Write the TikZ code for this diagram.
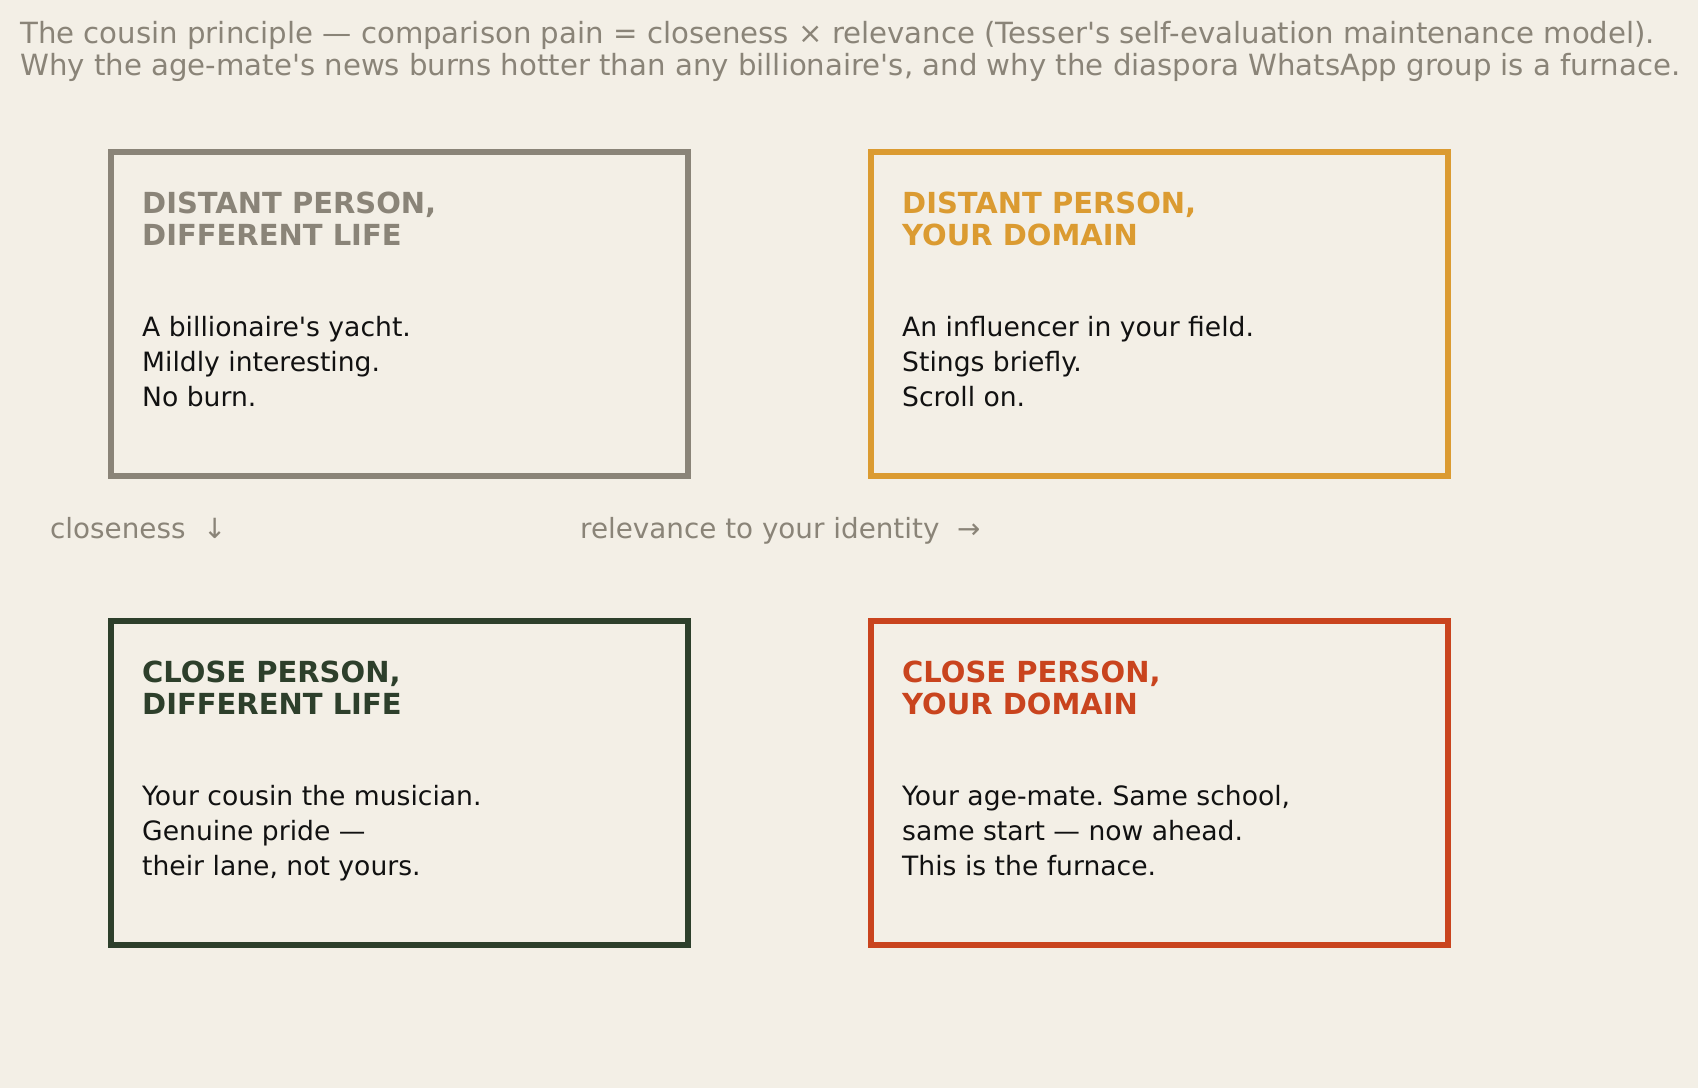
\documentclass[tikz,border=0pt]{standalone}
\usepackage{fontspec}
\setmainfont{DejaVu Sans}[Ligatures=TeXOff]
\frenchspacing
\definecolor{bg}{HTML}{F3EFE6}
\definecolor{greyc}{HTML}{8A8478}
\definecolor{gold}{HTML}{DB9B31}
\definecolor{forest}{HTML}{2D3F2B}
\definecolor{rust}{HTML}{C9441E}
\definecolor{ink}{HTML}{111111}
\begin{document}
\begin{tikzpicture}[x=1pt,y=-1pt,
  quad/.style={draw, line width=6pt, minimum width=577pt, minimum height=324.5pt, inner sep=0pt, anchor=center},
  head/.style={font=\bfseries\fontsize{29}{32.5}\selectfont, align=left, anchor=base west, inner sep=0pt},
  body/.style={font=\fontsize{26.6}{35}\selectfont, text=ink, align=left, anchor=base west, inner sep=0pt},
  titletxt/.style={font=\fontsize{29.2}{31}\selectfont, text=greyc, anchor=base west, inner sep=0pt},
  axislbl/.style={font=\fontsize{27.8}{32}\selectfont, text=greyc, anchor=base west, inner sep=0pt}]
\fill[bg] (0,0) rectangle (1698,1088);
\useasboundingbox (0,0) rectangle (1698,1088);
\node[titletxt] (t1) at (20,43) {The cousin principle — comparison pain = closeness × relevance (Tesser's self-evaluation maintenance model).};
\node[titletxt] (t2) at (20,75.5) {Why the age-mate's news burns hotter than any billionaire's, and why the diaspora WhatsApp group is a furnace.};
% boxes
\node[quad, draw=greyc] (b1) at (399.5,313.75) {};
\node[quad, draw=gold] (b2) at (1159.5,313.75) {};
\node[quad, draw=forest] (b3) at (399.5,782.75) {};
\node[quad, draw=rust] (b4) at (1159.5,782.75) {};
% headings (anchor = baseline of last line)
\node[head, text=greyc] (h1) at (142,245.5) {DISTANT PERSON,\\DIFFERENT LIFE};
\node[head, text=gold] (h2) at (902,245.5) {DISTANT PERSON,\\YOUR DOMAIN};
\node[head, text=forest] (h3) at (142,714.5) {CLOSE PERSON,\\DIFFERENT LIFE};
\node[head, text=rust] (h4) at (902,714.5) {CLOSE PERSON,\\YOUR DOMAIN};
% bodies
\node[body] (p1) at (142,406) {A billionaire's yacht.\\Mildly interesting.\\No burn.};
\node[body] (p2) at (902,406) {An influencer in your field.\\Stings briefly.\\Scroll on.};
\node[body] (p3) at (142,875) {Your cousin the musician.\\Genuine pride —\\their lane, not yours.};
\node[body] (p4) at (902,875) {Your age-mate. Same school,\\same start — now ahead.\\This is the furnace.};
% axis labels
\node[axislbl] (ax1) at (50,538) {closeness\ \ ↓};
\node[axislbl] (ax2) at (580,538) {relevance to your identity\ \ →};
\end{tikzpicture}
\end{document}
